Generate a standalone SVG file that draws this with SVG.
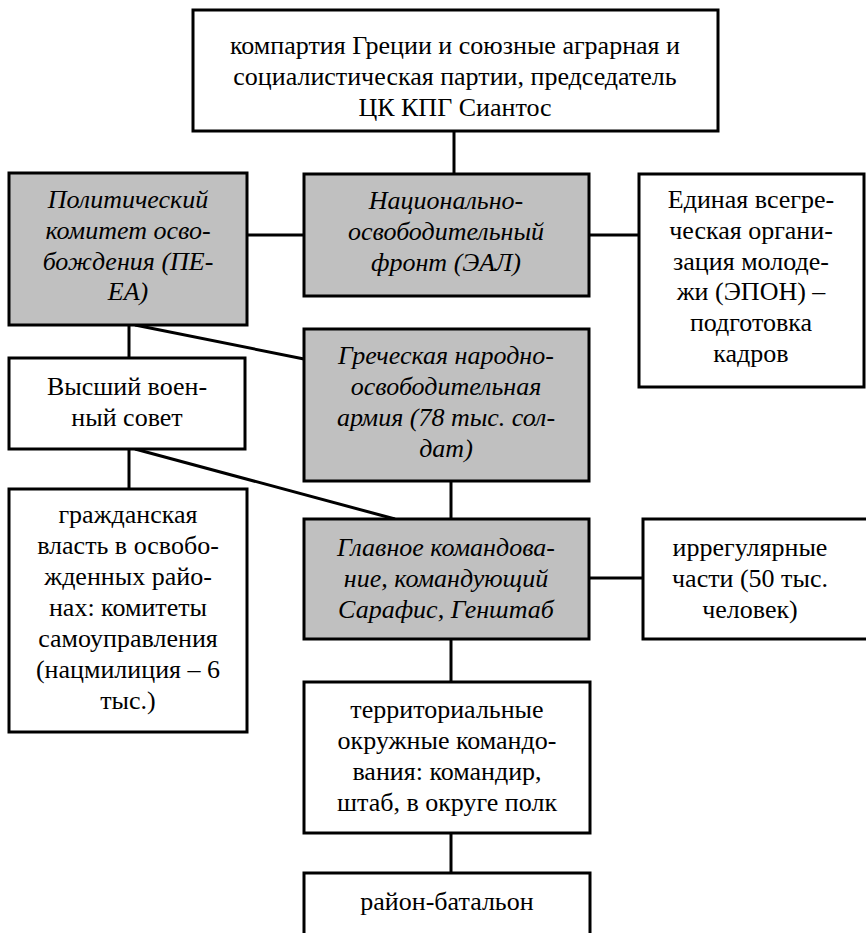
<svg xmlns="http://www.w3.org/2000/svg" width="866" height="933" viewBox="0 0 866 933">
<style>
.w,.g{stroke:#000;stroke-width:3}
.w{fill:#fff}
.g{fill:#c0c0c0}
text{font-family:"Liberation Serif","Times New Roman","DejaVu Serif",serif;font-size:26px;fill:#000;text-anchor:middle}
.i{font-style:italic}
#connectors line{stroke:#000;stroke-width:3}
</style>
<rect x="0" y="0" width="866" height="933" fill="#fff"/>
<g id="connectors">
<line x1="454" y1="131" x2="454" y2="174"/>
<line x1="247" y1="235" x2="304" y2="235"/>
<line x1="589" y1="235" x2="639" y2="235"/>
<line x1="129" y1="325" x2="129" y2="358"/>
<line x1="135" y1="325" x2="304" y2="359"/>
<line x1="129" y1="449" x2="129" y2="489"/>
<line x1="135" y1="449" x2="395" y2="519"/>
<line x1="451" y1="481" x2="451" y2="519"/>
<line x1="589" y1="578" x2="643" y2="578"/>
<line x1="451" y1="639" x2="451" y2="682"/>
<line x1="451" y1="833" x2="451" y2="873"/>
</g>
<g id="n-kpg">
<rect class="w" x="193" y="10" width="525" height="121"/>
<text x="455" y="54">компартия Греции и союзные аграрная и</text>
<text x="455" y="85">социалистическая партии, председатель</text>
<text x="455" y="116">ЦК КПГ Сиантос</text>
</g>
<g id="n-peea">
<rect class="g" x="9" y="173" width="238" height="152"/>
<text class="i" x="128" y="208">Политический</text>
<text class="i" x="128" y="239">комитет осво-</text>
<text class="i" x="128" y="270">бождения (ПЕ-</text>
<text class="i" x="128" y="300">ЕА)</text>
</g>
<g id="n-eam">
<rect class="g" x="304" y="174" width="285" height="122"/>
<text class="i" x="446" y="209">Национально-</text>
<text class="i" x="446" y="240">освободительный</text>
<text class="i" x="446" y="271">фронт (ЭАЛ)</text>
</g>
<g id="n-epon">
<rect class="w" x="639" y="174" width="225" height="213"/>
<text x="751" y="208">Единая всегре-</text>
<text x="751" y="239">ческая органи-</text>
<text x="751" y="270">зация молоде-</text>
<text x="751" y="300">жи (ЭПОН) –</text>
<text x="751" y="331">подготовка</text>
<text x="751" y="362">кадров</text>
</g>
<g id="n-council">
<rect class="w" x="9" y="358" width="236" height="91"/>
<text x="127" y="395">Высший воен-</text>
<text x="127" y="426">ный совет</text>
</g>
<g id="n-elas">
<rect class="g" x="304" y="329" width="285" height="152"/>
<text class="i" x="446" y="364">Греческая народно-</text>
<text class="i" x="446" y="395">освободительная</text>
<text class="i" x="446" y="426">армия (78 тыс. сол-</text>
<text class="i" x="446" y="457">дат)</text>
</g>
<g id="n-civil">
<rect class="w" x="9" y="489" width="238" height="243"/>
<text x="128" y="523">гражданская</text>
<text x="128" y="554">власть в освобо-</text>
<text x="128" y="585">жденных райо-</text>
<text x="128" y="616">нах: комитеты</text>
<text x="128" y="647">самоуправления</text>
<text x="128" y="678">(нацмилиция – 6</text>
<text x="128" y="709">тыс.)</text>
</g>
<g id="n-command">
<rect class="g" x="304" y="519" width="285" height="120"/>
<text class="i" x="446" y="556">Главное командова-</text>
<text class="i" x="446" y="587">ние, командующий</text>
<text class="i" x="446" y="618">Сарафис, Генштаб</text>
</g>
<g id="n-irregular">
<rect class="w" x="643" y="519" width="230" height="120"/>
<text x="750" y="556">иррегулярные</text>
<text x="750" y="587">части (50 тыс.</text>
<text x="750" y="618">человек)</text>
</g>
<g id="n-territorial">
<rect class="w" x="304" y="682" width="286" height="151"/>
<text x="447" y="718">территориальные</text>
<text x="447" y="749">окружные командо-</text>
<text x="447" y="780">вания: командир,</text>
<text x="447" y="811">штаб, в округе полк</text>
</g>
<g id="n-district">
<rect class="w" x="304" y="873" width="286" height="80"/>
<text x="447" y="910">район-батальон</text>
</g>
</svg>
